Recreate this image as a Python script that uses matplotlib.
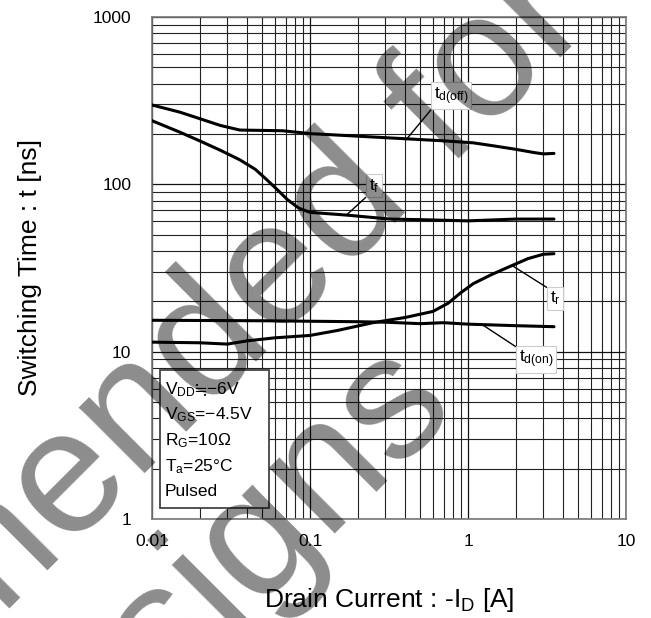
import matplotlib
matplotlib.use('Agg')
import matplotlib.pyplot as plt
import numpy as np
from matplotlib.ticker import LogLocator, NullFormatter, FixedLocator, FixedFormatter
from matplotlib.patches import Rectangle

plt.rcParams['font.family'] = ['Liberation Sans', 'DejaVu Sans']
plt.rcParams['mathtext.default'] = 'regular'

# Switching time vs drain current
x_doff = [0.01, 0.015, 0.02, 0.027, 0.036, 0.05, 0.067, 0.1, 0.2, 0.41, 0.7, 1.08, 1.5, 2.0, 2.6, 3.0, 3.5]
t_doff = [298, 270, 247, 225, 211, 210, 209, 201, 194, 187, 182, 177, 169, 162, 155, 152, 153]

x_f = [0.01, 0.015, 0.02, 0.027, 0.036, 0.045, 0.053, 0.062, 0.072, 0.085, 0.1, 0.17, 0.32, 0.5, 1.0, 2.0, 3.5]
t_f = [240, 205, 182, 160, 140, 123, 107, 93, 81, 72, 68, 65.5, 62, 61.5, 60.5, 62, 62]

x_r = [0.01, 0.02, 0.03, 0.04, 0.06, 0.1, 0.15, 0.25, 0.4, 0.6, 0.75, 0.9, 1.08, 1.4, 1.8, 2.4, 3.0, 3.5]
t_r = [11.4, 11.3, 11.1, 11.6, 12.1, 12.5, 13.4, 14.9, 16.0, 17.4, 19.5, 22.5, 25.5, 28.8, 32.0, 36.0, 38.2, 38.5]

x_don = [0.01, 0.05, 0.1, 0.2, 0.3, 0.5, 0.7, 1.0, 2.0, 3.5]
t_don = [15.4, 15.3, 15.2, 15.1, 15.0, 14.7, 14.9, 14.6, 14.3, 14.1]

curves = [(x_doff, t_doff), (x_f, t_f), (x_r, t_r), (x_don, t_don)]

# curve labels: text, label centre, x where the leader touches the curve
label_texts = [r't$_{d(off)}$', r't$_{f}$', r't$_{r}$', r't$_{d(on)}$']
label_pos = [(0.78, 338), (0.254, 98), (3.56, 20.9), (2.69, 9.0)]
leader_x = [0.41, 0.17, 1.9, 1.23]
leader_rel = [(0, 0), (0, 0), (0, 1), (0, 1)]

x_ticks = [0.01, 0.1, 1, 10]
x_ticklabels = ['0.01', '0.1', '1', '10']
y_ticks = [1, 10, 100, 1000]
y_ticklabels = ['1', '10', '100', '1000']

cond_lines = [r'V$_{DD}≒$−6V', r'V$_{GS}$=−4.5V', r'R$_{G}$=10Ω', r'T$_{a}$=25°C', 'Pulsed']

fig = plt.figure(figsize=(6.51, 6.18), dpi=100)
ax = fig.add_axes([0.2335, 0.1602, 0.7281, 0.8123])
ax.set_xscale('log')
ax.set_yscale('log')
ax.set_xlim(0.01, 10)
ax.set_ylim(1, 1000)

ax.xaxis.set_major_locator(FixedLocator(x_ticks))
ax.xaxis.set_major_formatter(FixedFormatter(x_ticklabels))
ax.yaxis.set_major_locator(FixedLocator(y_ticks))
ax.yaxis.set_major_formatter(FixedFormatter(y_ticklabels))
ax.xaxis.set_minor_locator(LogLocator(base=10, subs=np.arange(2, 10), numticks=20))
ax.yaxis.set_minor_locator(LogLocator(base=10, subs=np.arange(2, 10), numticks=20))
ax.xaxis.set_minor_formatter(NullFormatter())
ax.yaxis.set_minor_formatter(NullFormatter())
ax.tick_params(which='both', length=0, labelsize=12.5)
ax.tick_params(axis='x', pad=11)
ax.tick_params(axis='y', pad=15)

ax.grid(which='major', color='#111111', lw=0.9)
ax.grid(which='minor', color='#222222', lw=0.8)
ax.set_axisbelow(True)
for s in ax.spines.values():
    s.set_color('#777777')
    s.set_linewidth(1.2)

for xs, ys in curves:
    ax.plot(xs, ys, color='black', lw=2.2, solid_capstyle='round', zorder=3)

for (xs, ys), txt, pos, lx, rel in zip(curves, label_texts, label_pos, leader_x, leader_rel):
    ly = 10 ** np.interp(np.log10(lx), np.log10(xs), np.log10(ys))
    ax.annotate(txt, xy=(lx, ly), xytext=pos, ha='center', va='center', fontsize=12.5,
                bbox=dict(boxstyle='square,pad=0.15', fc='white', ec='#cccccc', lw=0.8),
                arrowprops=dict(arrowstyle='-', color='black', lw=1.0, relpos=rel,
                                shrinkA=0, shrinkB=0),
                zorder=5)

# measurement condition box
ax.add_patch(Rectangle((0.017, 0.022), 0.23, 0.275, transform=ax.transAxes,
                       fc='white', ec='#444444', lw=1.3, zorder=4))
cond_y = [0.249, 0.199, 0.147, 0.096, 0.046]
for txt, yy in zip(cond_lines, cond_y):
    ax.text(0.027, yy, txt, transform=ax.transAxes, fontsize=12.5, ha='left',
            va='baseline', zorder=5)

ax.set_xlabel('Drain Current : -I$_{D}$ [A]', fontsize=19)
ax.set_ylabel('Switching Time : t [ns]', fontsize=19)
ax.xaxis.set_label_coords(0.5, -0.133)
ax.yaxis.set_label_coords(-0.232, 0.5)

# watermark
wm_lines = ['Not Recommended for', 'New Designs']
wm_anchor = [(0.912, 0.961), (0.704, 0.336)]
for txt, (wx, wy) in zip(wm_lines, wm_anchor):
    fig.text(wx, wy, txt, fontsize=127, color='black', alpha=0.45, rotation=45,
             rotation_mode='anchor', ha='right', va='baseline', zorder=10)

fig.savefig('out.png', dpi=100)
